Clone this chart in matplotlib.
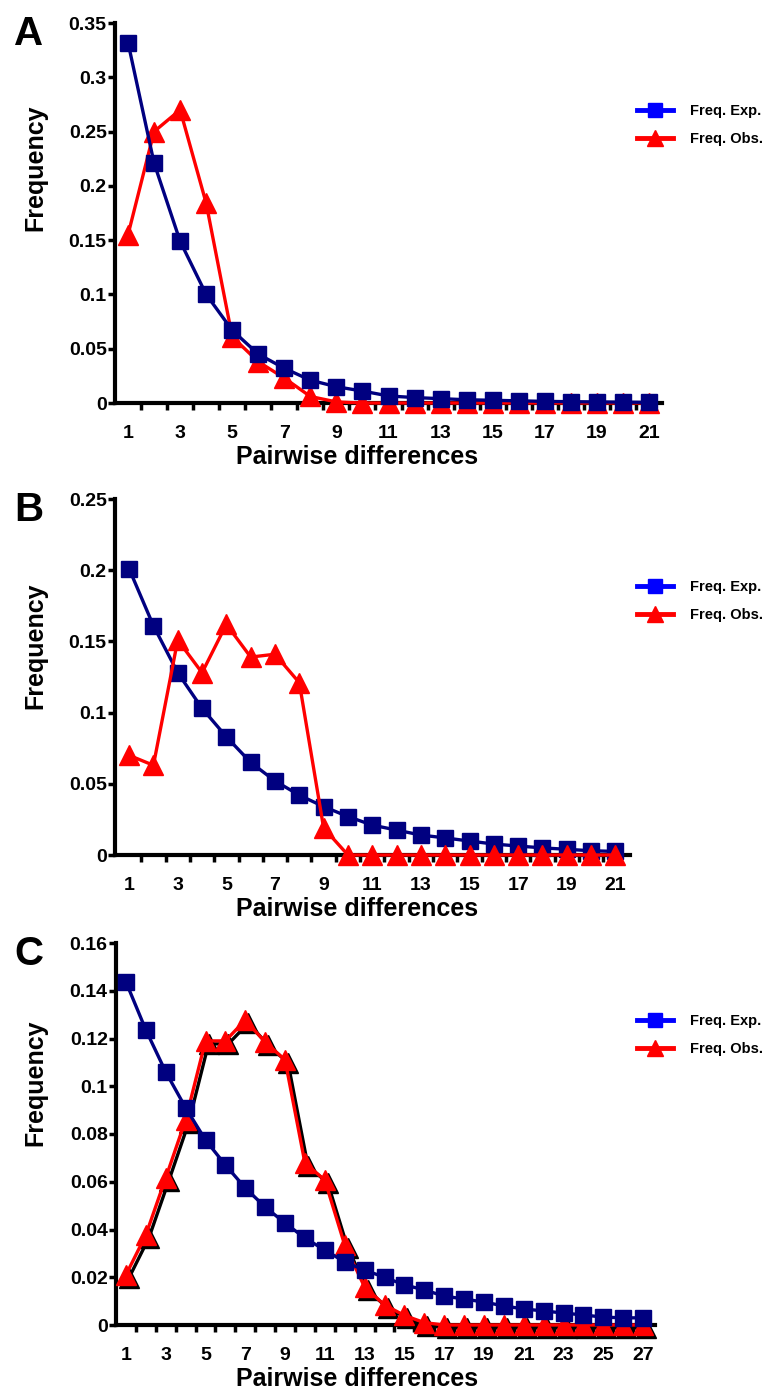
import matplotlib
matplotlib.use('Agg')
import matplotlib.pyplot as plt
from matplotlib.lines import Line2D
from matplotlib.transforms import offset_copy
import numpy as np

plt.rcParams['font.family'] = ['Liberation Sans', 'DejaVu Sans']
plt.rcParams['font.weight'] = 'bold'

# panel A
a_x = list(range(1, 22))
a_exp = [0.332, 0.221, 0.149, 0.100, 0.067, 0.045, 0.032, 0.021, 0.015, 0.011, 0.0065,
         0.005, 0.004, 0.003, 0.0025, 0.002, 0.0015, 0.0012, 0.001, 0.0008, 0.0006]
a_obs = [0.155, 0.250, 0.270, 0.184, 0.061, 0.038, 0.023, 0.006, 0.001, 0, 0,
         0, 0, 0, 0, 0, 0, 0, 0, 0, 0]

# panel B
b_x = list(range(1, 22))
b_exp = [0.201, 0.161, 0.128, 0.103, 0.083, 0.065, 0.052, 0.042, 0.034, 0.027, 0.021,
         0.0175, 0.014, 0.012, 0.0098, 0.0077, 0.0063, 0.005, 0.004, 0.003, 0.0025]
b_obs = [0.070, 0.063, 0.151, 0.128, 0.162, 0.139, 0.141, 0.121, 0.019, 0, 0,
         0, 0, 0, 0, 0, 0, 0, 0, 0, 0]

# panel C
c_x = list(range(1, 28))
c_exp = [0.1437, 0.1236, 0.106, 0.091, 0.0775, 0.067, 0.0574, 0.0494, 0.0427, 0.0364,
         0.0314, 0.0264, 0.023, 0.020, 0.0168, 0.0147, 0.0121, 0.0109, 0.0096, 0.008,
         0.0067, 0.0059, 0.005, 0.0042, 0.0033, 0.003, 0.003]
c_obs = [0.021, 0.0377, 0.0616, 0.0859, 0.119, 0.119, 0.1277, 0.1185, 0.111, 0.0678,
         0.0607, 0.0335, 0.0159, 0.0084, 0.004, 0.001, 0, 0, 0, 0,
         0, 0, 0, 0, 0, 0, 0]

panels = [
    # letter, x, exp, obs, ylim top, ystep, axes rect px, xlim, legend y px, shadow, obs on top, ylabel y
    ('A', a_x, a_exp, a_obs, 0.35, 0.05, [115, 23, 547, 380], (0.5, 21.5), 125, False, False, 0.62),
    ('B', b_x, b_exp, b_obs, 0.25, 0.05, [115, 499, 515, 356], (0.42, 21.6), 601, False, True, 0.587),
    ('C', c_x, c_exp, c_obs, 0.16, 0.02, [116, 943, 539, 382], (0.5, 27.6), 1035, True, False, 0.633),
]

W, H = 772, 1395
fig = plt.figure(figsize=(W / 100, H / 100), dpi=100)

navy = '#000080'
red = '#ff0000'

for letter, xs, exp, obs, ytop, ystep, rect, xlim, leg_y, shadow, obs_top, ylab_y in panels:
    l, t, w, h = rect
    ax = fig.add_axes([l / W, 1 - (t + h) / H, w / W, h / H])
    z_obs = 5 if obs_top else 3
    ax.plot(xs, exp, color=navy, lw=2.4, marker='s', ms=12, mec=navy, mfc=navy,
            clip_on=False, zorder=4)
    if shadow:
        tr = offset_copy(ax.transData, fig=fig, x=3, y=-3, units='dots')
        ax.plot(xs, obs, color='black', lw=2.4, marker='^', ms=14, mec='black', mfc='black',
                clip_on=False, zorder=z_obs - 0.5, transform=tr)
    ax.plot(xs, obs, color=red, lw=2.4, marker='^', ms=14, mec=red, mfc=red,
            clip_on=False, zorder=z_obs)
    ax.set_xlim(*xlim)
    ax.set_ylim(0, ytop)
    yt = np.round(np.arange(0, ytop + ystep / 2, ystep), 3)
    ax.set_yticks(yt)
    ax.set_yticklabels(['0' if v == 0 else ('%g' % v) for v in yt], fontsize=14, fontweight='bold')
    # ticks at bin edges, labels at odd numbers
    ax.set_xticks(np.arange(1.5, xs[-1], 1.0))
    ax.set_xticklabels([])
    ax.set_xticks(xs[::2], minor=True)
    ax.set_xticklabels([str(v) for v in xs[::2]], minor=True, fontsize=14, fontweight='bold')
    ax.tick_params(axis='x', which='major', direction='out', length=5, width=2.5)
    ax.tick_params(axis='x', which='minor', length=0, pad=16)
    ax.tick_params(axis='y', direction='out', length=5, width=2.5, pad=1)
    for s in ['top', 'right']:
        ax.spines[s].set_visible(False)
    for s in ['left', 'bottom']:
        ax.spines[s].set_linewidth(3)
    ax.set_xlabel('Pairwise differences', fontsize=18, fontweight='bold')
    ax.xaxis.set_label_coords((357 - l) / w, -42 / h)
    ax.set_ylabel('Frequency', fontsize=18, fontweight='bold')
    ax.yaxis.set_label_coords((47 - l) / w, ylab_y)
    fig.text(14 / W, 1 - (t - 8) / H, letter, fontsize=29, fontweight='bold',
             ha='left', va='top')

    handles = [Line2D([], [], color='#0000ff', lw=3.5, marker='s', ms=10),
               Line2D([], [], color='#ff0000', lw=3.5, marker='^', ms=11)]
    fig.legend(handles, ['Freq. Exp.', 'Freq. Obs.'], loc='center left',
               bbox_to_anchor=(637 / W, 1 - leg_y / H), frameon=False,
               prop={'size': 10.5, 'weight': 'bold'}, borderpad=0, borderaxespad=0,
               handlelength=2.5, handletextpad=1.1, labelspacing=1.0)

fig.savefig('out.png', dpi=100)
